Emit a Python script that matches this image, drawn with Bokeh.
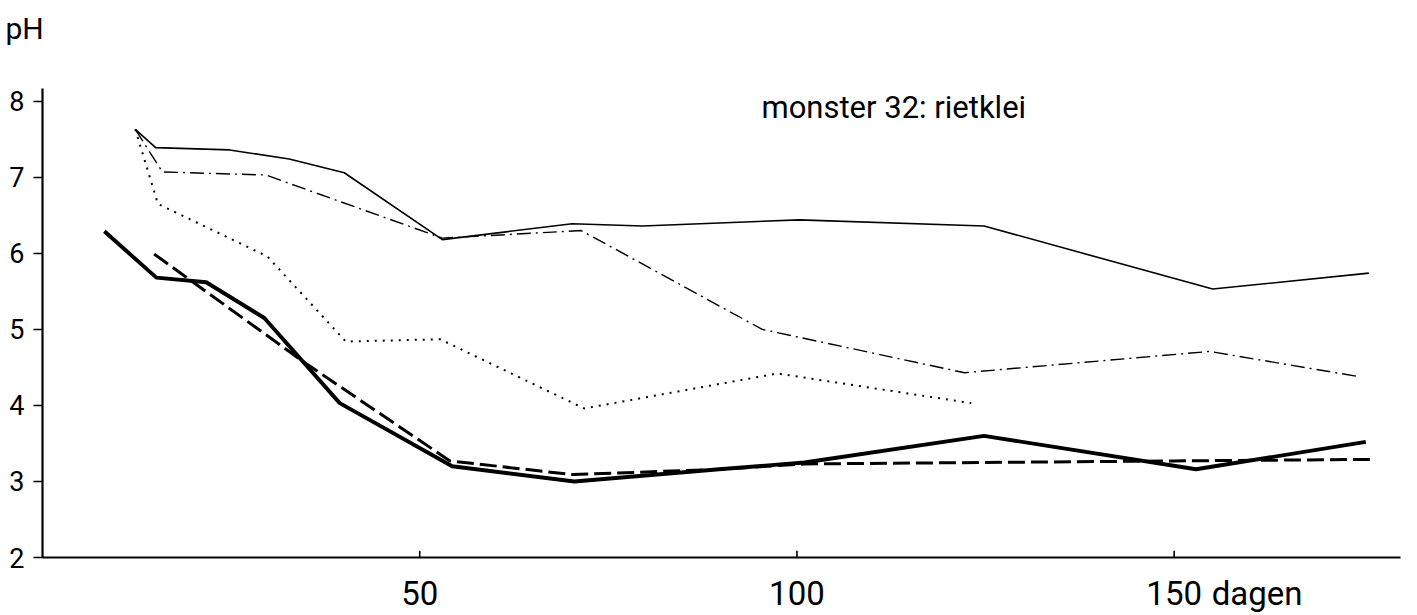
from bokeh.plotting import figure
from bokeh.models import Label, FixedTicker, Range1d, Title
from bokeh.embed import file_html
from bokeh.resources import INLINE

# pH in time (days) for sample 32 (rietklei), five treatments
days_a = [12.3, 15.0, 24.8, 32.7, 40.0, 53.0, 70.2, 79.5, 100.3, 124.8, 155.1, 175.8]
ph_a = [7.63, 7.39, 7.36, 7.24, 7.06, 6.18, 6.39, 6.36, 6.44, 6.36, 5.53, 5.74]

days_b = [12.3, 15.9, 29.6, 53.0, 71.4, 95.4, 122.2, 154.7, 174.4]
ph_b = [7.63, 7.07, 7.03, 6.20, 6.30, 5.00, 4.43, 4.71, 4.38]

days_c = [12.3, 15.3, 29.8, 40.2, 52.7, 71.8, 97.4, 123.1]
ph_c = [7.63, 6.65, 5.96, 4.84, 4.87, 3.96, 4.42, 4.03]

days_d = [8.2, 15.1, 21.7, 29.4, 39.4, 54.3, 70.5, 89.7, 101.0, 124.8, 152.9, 175.4]
ph_d = [6.29, 5.68, 5.62, 5.15, 4.03, 3.20, 3.00, 3.16, 3.25, 3.60, 3.16, 3.52]

days_e = [14.8, 34.5, 54.0, 70.3, 89.7, 101.0, 125.0, 150.0, 176.3]
ph_e = [5.99, 4.58, 3.27, 3.09, 3.16, 3.23, 3.25, 3.27, 3.29]

x_ticks = [50, 100, 150]
x_unit_pos = 161          # where the unit word sits along the day axis
y_ticks = [2, 3, 4, 5, 6, 7, 8]

FONT = "Roboto"

p = figure(
    width=1417, height=615,
    x_range=Range1d(0, 180), y_range=Range1d(2, 8.72),
    output_backend="svg", toolbar_location=None,
    min_border_left=42, min_border_right=17,
    min_border_top=46, min_border_bottom=56,
)
p.outline_line_color = None
p.background_fill_color = "white"
p.border_fill_color = "white"
p.grid.visible = False
p.title.visible = False

# y-axis name, left-aligned above the plot
p.add_layout(Title(text="pH", align="left", offset=-37, standoff=2,
                   text_font=FONT, text_font_size="30px", text_font_style="normal",
                   text_color="black"), "above")

# axes
for ax in (p.xaxis, p.yaxis):
    ax.axis_line_width = 2.2
    ax.axis_line_color = "black"
    ax.major_tick_line_color = "black"
    ax.major_tick_line_width = 1.6
    ax.minor_tick_line_color = None
    ax.major_label_text_font = FONT
    ax.major_label_text_color = "black"

p.xaxis.ticker = FixedTicker(ticks=x_ticks + [x_unit_pos])
p.xaxis.major_label_overrides = {x_unit_pos: "dagen"}
p.xaxis.major_tick_line_color = None
p.xaxis.major_tick_in = 0
p.xaxis.major_tick_out = 0
p.xaxis.major_label_text_font_size = "33px"
p.xaxis.major_label_standoff = 16
p.xaxis.bounds = (-1.2, 180)

p.yaxis.ticker = FixedTicker(ticks=y_ticks)
p.yaxis.major_tick_in = 0
p.yaxis.major_tick_out = 9
p.yaxis.major_label_text_font_size = "27px"
p.yaxis.major_label_standoff = 9
p.yaxis.bounds = (2, 8.17)

# inward tick marks on the day axis
p.segment(x0=x_ticks, y0=[2] * len(x_ticks), x1=x_ticks, y1=[2.09] * len(x_ticks),
          line_color="black", line_width=1.6)

# series
p.line(days_a, ph_a, line_color="black", line_width=1.6)
p.line(days_b, ph_b, line_color="black", line_width=1.4, line_dash="14 5 2 5")
p.line(days_c, ph_c, line_color="black", line_width=2.0, line_dash="2 6")
p.line(days_d, ph_d, line_color="black", line_width=3.9, line_join="round")
p.line(days_e, ph_e, line_color="black", line_width=3.0, line_dash="17 6")

p.add_layout(Label(x=95.3, y=7.92, text="monster 32: rietklei", text_font=FONT,
                   text_font_size="31px", text_color="black", text_baseline="alphabetic"))

open("out.html", "w").write(file_html(p, INLINE))
